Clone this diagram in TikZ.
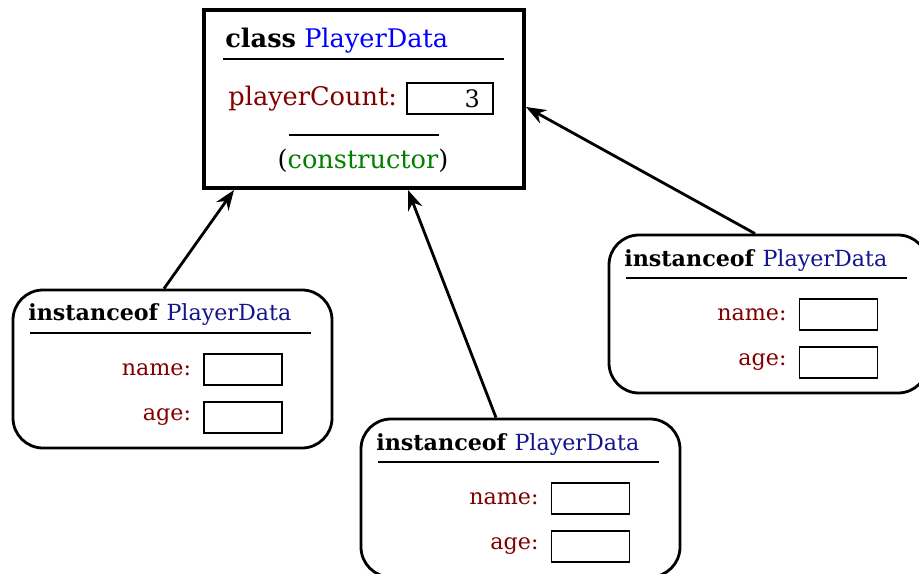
\documentclass[tikz,border=0pt]{standalone}
\usepackage{fontspec}
\setmainfont{DejaVu Serif}
\usetikzlibrary{arrows.meta,positioning}

\definecolor{clsblue}{RGB}{0,0,255}
\definecolor{instblue}{RGB}{20,20,140}
\definecolor{fieldred}{RGB}{128,0,0}
\definecolor{ctorgreen}{RGB}{0,128,0}

\begin{document}
\begin{tikzpicture}[x=0.5pt,y=-0.5pt]
        % Common styles
        \tikzstyle{classbox}=[draw, line width=2pt, minimum width=160pt, minimum height=89pt, inner sep=0pt]
        \tikzstyle{instbox}=[draw, line width=1.4pt, rounded corners=15pt, minimum width=159.5pt, minimum height=79pt, inner sep=0pt]
        \tikzstyle{valbox}=[draw, line width=0.6pt, minimum width=39pt, minimum height=15.5pt, inner sep=0pt]
        \tikzstyle{fieldlabel}=[fieldred, inner sep=0pt, font=\fontsize{11.1}{13}\selectfont]
        \tikzstyle{insttitle}=[anchor=base west, inner sep=0pt, font=\fontsize{11.1}{13}\selectfont]
        \tikzstyle{rule}=[line width=0.6pt]
        \tikzstyle{link}=[-{Stealth[length=10pt,width=7.5pt]}, line width=1.4pt]

        \useasboundingbox (0,0) rectangle (919,573);

        % --- Class PlayerData ---
        \node[classbox] (cls) at (364,99) {};
        \node[anchor=base west, inner sep=0pt, font=\fontsize{12.8}{14}\selectfont] (clstitle) at (225,47)
            {\textbf{class} \textcolor{clsblue}{PlayerData}};
        \draw[rule] (223,59) -- (504,59);
        \node[valbox, minimum width=43pt, text width=30pt, align=right, font=\fontsize{12}{14}\selectfont] (count) at (450,98.5) {3};
        \node[fieldlabel, font=\fontsize{12.8}{14}\selectfont, left=4.5pt of count] (countlabel) {playerCount:};
        \draw[rule] (289,135) -- (439,135);
        \node[inner sep=0pt, font=\fontsize{12.8}{14}\selectfont] (ctor) at (363,161)
            {(\textcolor{ctorgreen}{constructor})};

        % --- Instance 1 (left) ---
        \node[instbox] (inst1) at (172.5,369) {};
        \node[insttitle] (title1) at (28,320) {\textbf{instanceof} \textcolor{instblue}{PlayerData}};
        \draw[rule] (30,333) -- (311,333);
        \node[valbox] (name1) at (243,369.5) {};
        \node[valbox] (age1) at (243,417.5) {};
        \node[fieldlabel, left=6pt of name1] (namelabel1) {name:};
        \node[fieldlabel, left=6pt of age1] (agelabel1) {age:};

        % --- Instance 2 (bottom) ---
        \node[instbox] (inst2) at (520.5,498) {};
        \node[insttitle] (title2) at (376,450) {\textbf{instanceof} \textcolor{instblue}{PlayerData}};
        \draw[rule] (378,462) -- (659,462);
        \node[valbox] (name2) at (590.5,498.5) {};
        \node[valbox] (age2) at (590.5,546.5) {};
        \node[fieldlabel, left=6pt of name2] (namelabel2) {name:};
        \node[fieldlabel, left=6pt of age2] (agelabel2) {age:};

        % --- Instance 3 (right) ---
        \node[instbox] (inst3) at (768.5,314) {};
        \node[insttitle] (title3) at (624,266) {\textbf{instanceof} \textcolor{instblue}{PlayerData}};
        \draw[rule] (626,278) -- (907,278);
        \node[valbox] (name3) at (838.5,314.5) {};
        \node[valbox] (age3) at (838.5,362.5) {};
        \node[fieldlabel, left=6pt of name3] (namelabel3) {name:};
        \node[fieldlabel, left=6pt of age3] (agelabel3) {age:};

        % Links to the class
        \draw[link] ([xshift=-4.25pt]inst1.north) -- ([xshift=16pt]cls.south west);
        \draw[link] ([xshift=-12.25pt]inst2.north) -- ([xshift=22pt]cls.south);
        \draw[link] ([xshift=-6.75pt]inst3.north) -- ([yshift=-4pt]cls.east);

    \end{tikzpicture}
\end{document}
